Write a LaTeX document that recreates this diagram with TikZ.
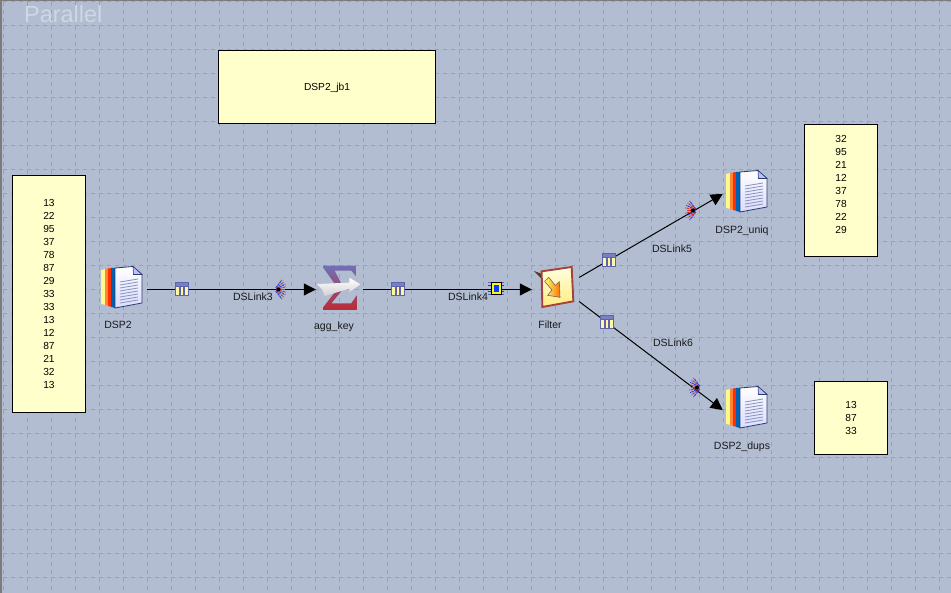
\documentclass[tikz,border=0pt]{standalone}
\usepackage{fontspec}
\setmainfont{Liberation Sans}
\usetikzlibrary{arrows.meta}
\definecolor{canvasbg}{HTML}{B2BDD1}
\definecolor{gridc}{HTML}{99A3A9}
\definecolor{notec}{HTML}{FFFFCC}
\definecolor{edgec}{HTML}{7C7C7C}
\definecolor{titlec}{HTML}{CFD6E4}
\definecolor{tabframe}{HTML}{5C64AC}
\definecolor{tabhead}{HTML}{7880C4}
\definecolor{tabcell}{HTML}{FFF7A6}
\definecolor{fanred}{HTML}{E2301E}
\definecolor{fanblue}{HTML}{2546D8}
\definecolor{docedge}{HTML}{2B3C70}
\definecolor{docline}{HTML}{8A96C0}
\definecolor{sigtop}{HTML}{7070B8}
\definecolor{sigbot}{HTML}{BC2A34}
\definecolor{cardedge}{HTML}{A8403C}
\tikzset{
  x=1pt,y=-1pt,
  notebox/.style={draw=black,line width=1pt,fill=notec,inner sep=0pt,align=center,
    font=\fontsize{10.2}{13}\selectfont},
  lbl/.style={inner sep=0pt,font=\fontsize{10.5}{13}\selectfont,text=black!90},
  hub/.style={inner sep=0pt,minimum width=#1,minimum height=44pt},
  link/.style={line width=1.1pt,-{Triangle[length=12pt,width=12pt]}},
  gridline/.style={gridc,line width=1pt,dash pattern=on 4pt off 4pt},
  docicon/.pic={
    \fill[fill=yellow!45!white] (1,4) -- (6,3) -- (6,39) -- (1,38) -- cycle;
    \fill[fill=orange!80!red!80!white] (5,3) -- (9,2.5) -- (9,40) -- (5,39) -- cycle;
    \fill[fill=red!65!orange] (8,2.5) -- (12,2) -- (12,41) -- (8,40) -- cycle;
    \fill[fill=blue!45!cyan!70!black] (11,2) -- (15,2) -- (15,42) -- (11,41) -- cycle;
    \shade[top color=white,bottom color=blue!14!white,draw=docedge,line width=.8pt]
      (15,2) -- (33,0.5) -- (42,8.5) -- (42,37) -- (15,42) -- cycle;
    \fill[fill=blue!25!white,draw=docedge,line width=.6pt] (33,0.5) -- (33.5,8.5) -- (42,8.5) -- cycle;
    \foreach \k in {0,...,7}{
      \draw[docline,line width=.9pt] (20,16+3*\k) -- (38,13+3*\k);
    }
  },
  sigmaicon/.pic={
    \begin{scope}[scale=.3333]
      \shade[top color=sigtop,bottom color=sigbot]
        (35,17) -- (133,17) -- (133,50) -- (118,32) -- (68,32) -- (95,85) -- (58,130)
        -- (118,130) -- (135,105) -- (135,150) -- (35,150) -- (35,140) -- (78,85) -- (35,25) -- cycle;
      \shade[top color=white,bottom color=black!18!white]
        (15,72) -- (112,68) -- (112,53) -- (145,73) -- (112,96) -- (112,86) -- (38,108) -- (30,88) -- cycle;
    \end{scope}
  },
  filtericon/.pic={
    \begin{scope}[scale=.3333]
      \fill[black!55!brown] (12,27) -- (36,36) -- (36,52) -- cycle;
      \shade[top color=yellow!12!white,bottom color=orange!30!yellow!50!white,draw=cardedge,line width=1.9pt]
        (35,28) -- (125,15) -- (130,118) -- (37,135) -- cycle;
      \shade[left color=yellow!55!white,right color=orange!90!red,draw=black!60,line width=.6pt]
        (44,58) -- (56,46) -- (76,70) -- (88,59) -- (90,106) -- (53,100) -- (66,84) -- cycle;
    \end{scope}
  },
  tableicon/.pic={
    \fill[tabframe] (-7,-7) rectangle (7,7);
    \fill[tabhead] (-6,-6) rectangle (6,-2.5);
    \fill[tabcell] (-6,-1.5) rectangle (-2.6,6);
    \fill[tabcell] (-1.4,-1.5) rectangle (1.4,6);
    \fill[tabcell] (2.6,-1.5) rectangle (6,6);
  },
  fanicon/.pic={
    \foreach \a/\c in {-52/fanblue,-39/fanred,-26/fanblue,-13/fanred,13/fanred,26/fanblue,39/fanred,52/fanblue}{
      \draw[\c,line width=1pt,dash pattern=on 2.4pt off .7pt] (\a:2) -- (\a:12);
    }
    \draw[fanred,line width=1pt] (2,0) -- (10,0);
    \fill[black] (4,0) circle (2pt);
  },
  particon/.pic={
    \draw[tabframe,line width=1pt] (-8,-6) -- (8,-6) (-8,6) -- (8,6);
    \draw[green!45!black,line width=1pt] (-8,-3) -- (8,-3) (-8,3) -- (8,3);
    \draw[fill=yellow!90!white,draw=black,line width=1pt] (-5,-6) rectangle (5,6);
    \fill[blue!75!cyan] (-2.5,-3.5) rectangle (2.5,3);
  }
}
\begin{document}
\begin{tikzpicture}
\useasboundingbox (0,0) rectangle (951,593);
\fill[canvasbg] (0,0) rectangle (951,593);
\foreach \gx in {0,...,39}{
  \draw[gridline] ({3.5+24*\gx},2) -- ({3.5+24*\gx},593);
}
\foreach \gy in {0,...,24}{
  \draw[gridline] (3,{1.5+24*\gy}) -- (951,{1.5+24*\gy});
}
\fill[edgec] (0,0) rectangle (2.2,593);
\fill[edgec] (0,0) rectangle (951,1);
\node[anchor=base west,inner sep=0pt,text=titlec,font=\fontsize{23.4}{24}\selectfont] (mode) at (24,23) {Parallel};

% notes
\node[notebox,minimum width=217pt,minimum height=73pt] (notejob) at (327,87) {\raisebox{-3.6pt}[0pt][0pt]{DSP2\_jb1}};
\node[notebox,minimum width=73pt,minimum height=237pt] (notein) at (49,294)
  {13\\22\\95\\37\\78\\87\\29\\33\\33\\13\\12\\87\\21\\32\\13};
\node[notebox,minimum width=73pt,minimum height=132pt] (noteuniq) at (841,190.5)
  {32\\95\\21\\12\\37\\78\\22\\29\\\mbox{}};
\node[notebox,minimum width=73pt,minimum height=73pt] (notedups) at (851,418)
  {13\\87\\33};

% stages (anchor areas)
\node[hub=52pt] (dsp) at (121,289.5) {};
\node[hub=47pt] (agg) at (339.5,289.5) {};
\node[hub=47pt] (filter) at (555.5,289.5) {};
\node[hub=44pt] (uniq) at (745,190) {};
\node[hub=44pt] (dups) at (745,407) {};

% links
\draw[link] (dsp) -- (agg);
\draw[link] (agg) -- (filter);
\draw[link,line width=1pt] (filter.27) -- (uniq.190);
\draw[link,line width=1pt] (filter.-27) -- (dups.188);

% icons
\pic at (100,266) {docicon};
\pic at (725,170) {docicon};
\pic at (725,386) {docicon};
\pic at (312,260) {sigmaicon};
\pic at (530,262) {filtericon};

% link markers
\pic at (182,289) {tableicon};
\pic at (398,289) {tableicon};
\pic at (609,260) {tableicon};
\pic at (607,322) {tableicon};
\pic at (496,289) {particon};
\pic at (274.5,289.5) {fanicon};
\pic[rotate=180] at (697,210.5) {fanicon};
\pic[rotate=180] at (701,387.5) {fanicon};

% labels
\node[lbl] (l3) at (253,297) {DSLink3};
\node[lbl] (l4) at (468,297) {DSLink4};
\node[lbl] (l5) at (672,249) {DSLink5};
\node[lbl] (l6) at (673,343) {DSLink6};
\node[lbl] (ldsp) at (118,325) {DSP2};
\node[lbl] (lagg) at (334,326.5) {agg\_key};
\node[lbl] (lfilter) at (550,325) {Filter};
\node[lbl] (luniq) at (742,230.5) {DSP2\_uniq};
\node[lbl] (ldups) at (742,446.5) {DSP2\_dups};
\end{tikzpicture}
\end{document}
